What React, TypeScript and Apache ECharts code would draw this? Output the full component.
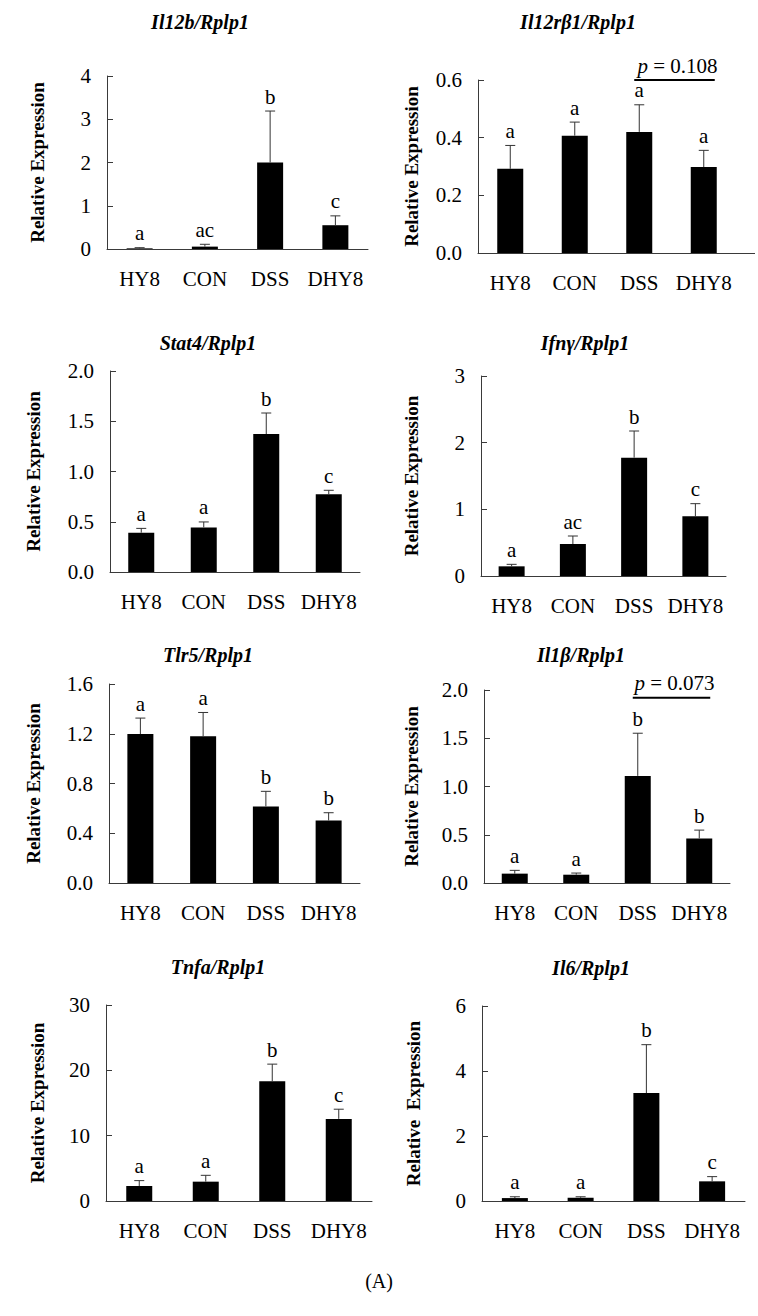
import React, { useEffect, useRef } from "react";
import * as echarts from "echarts";

const categories = ["HY8", "CON", "DSS", "DHY8"];

const il12bMean = [0.015, 0.055, 2.0, 0.55];
const il12bErr = [0.015, 0.054, 1.19, 0.216];
const il12bLetters = ["a", "ac", "b", "c"];

const il12rb1Mean = [0.292, 0.407, 0.42, 0.298];
const il12rb1Err = [0.081, 0.047, 0.094, 0.058];
const il12rb1Letters = ["a", "a", "a", "a"];

const stat4Mean = [0.391, 0.444, 1.373, 0.773];
const stat4Err = [0.043, 0.054, 0.209, 0.04];
const stat4Letters = ["a", "a", "b", "c"];

const ifngMean = [0.145, 0.48, 1.775, 0.895];
const ifngErr = [0.03, 0.12, 0.4, 0.19];
const ifngLetters = ["a", "ac", "b", "c"];

const tlr5Mean = [1.197, 1.18, 0.616, 0.503];
const tlr5Err = [0.129, 0.191, 0.121, 0.062];
const tlr5Letters = ["a", "a", "b", "b"];

const il1bMean = [0.097, 0.086, 1.11, 0.462];
const il1bErr = [0.034, 0.017, 0.442, 0.086];
const il1bLetters = ["a", "a", "b", "b"];

const tnfaMean = [2.3, 2.96, 18.34, 12.57];
const tnfaErr = [0.82, 0.97, 2.61, 1.48];
const tnfaLetters = ["a", "a", "b", "c"];

const il6Mean = [0.09, 0.1, 3.32, 0.605];
const il6Err = [0.04, 0.03, 1.49, 0.145];
const il6Letters = ["a", "a", "b", "c"];

const il12rb1Bracket = { from: 2, to: 3, y: 0.6, p: "0.108" };
const il1bBracket = { from: 2, to: 3, y: 1.92, p: "0.073" };

const panelTitles = [
  "Il12b/Rplp1",
  "Il12rβ1/Rplp1",
  "Stat4/Rplp1",
  "Ifnγ/Rplp1",
  "Tlr5/Rplp1",
  "Il1β/Rplp1",
  "Tnfa/Rplp1",
  "Il6/Rplp1",
];
const yAxisNames = [
  "Relative Expression",
  "Relative Expression",
  "Relative Expression",
  "Relative Expression",
  "Relative Expression",
  "Relative Expression",
  "Relative Expression",
  "Relative  Expression",
];
const yMax = [4, 0.6, 2.0, 3, 1.6, 2.0, 30, 6];
const yInterval = [1, 0.2, 0.5, 1, 0.4, 0.5, 10, 2];
const yDecimals = [0, 1, 1, 0, 1, 1, 0, 0];
const footLabel = "(A)";

const FONT = '"Liberation Serif", "Times New Roman", serif';

const layouts = [
  { left: 107, top: 76, width: 261, height: 173, titleX: 200, titleY: 22, nameGap: 60 },
  { left: 478, top: 80, width: 258, height: 173, titleX: 578, titleY: 22, nameGap: 57, axisEnd: 755 },
  { left: 110, top: 371, width: 250, height: 201, titleX: 208, titleY: 343, nameGap: 67 },
  { left: 481, top: 376, width: 245, height: 200, titleX: 585, titleY: 343, nameGap: 60 },
  { left: 109, top: 684, width: 251, height: 199, titleX: 208, titleY: 655, nameGap: 66 },
  { left: 484, top: 690, width: 246, height: 193, titleX: 581, titleY: 655, nameGap: 63 },
  { left: 106, top: 1005, width: 266, height: 196, titleX: 218, titleY: 967, nameGap: 59 },
  { left: 482, top: 1006, width: 263, height: 195, titleX: 591, titleY: 968, nameGap: 59 },
];

const panelData = [
  { mean: il12bMean, err: il12bErr, letters: il12bLetters, bracket: null as any },
  { mean: il12rb1Mean, err: il12rb1Err, letters: il12rb1Letters, bracket: il12rb1Bracket },
  { mean: stat4Mean, err: stat4Err, letters: stat4Letters, bracket: null },
  { mean: ifngMean, err: ifngErr, letters: ifngLetters, bracket: null },
  { mean: tlr5Mean, err: tlr5Err, letters: tlr5Letters, bracket: null },
  { mean: il1bMean, err: il1bErr, letters: il1bLetters, bracket: il1bBracket },
  { mean: tnfaMean, err: tnfaErr, letters: tnfaLetters, bracket: null },
  { mean: il6Mean, err: il6Err, letters: il6Letters, bracket: null },
];

const AXIS_COLOR = "#3a3a3a";
const TICK_FS = 21;
const LETTER_FS = 21;

function buildOption() {
  const grid: any[] = [];
  const xAxis: any[] = [];
  const yAxis: any[] = [];
  const series: any[] = [];
  const graphic: any[] = [];

  panelData.forEach((p, k) => {
    const L = layouts[k];
    grid.push({ left: L.left, top: L.top, width: L.width, height: L.height });
    xAxis.push({
      type: "category",
      gridIndex: k,
      data: categories,
      axisLine: { show: true, lineStyle: { color: AXIS_COLOR, width: 1 } },
      axisTick: { show: false },
      axisLabel: { interval: 0, margin: 19, color: "#000", fontSize: TICK_FS, fontFamily: FONT },
      splitLine: { show: false },
    });
    const dec = yDecimals[k];
    yAxis.push({
      type: "value",
      gridIndex: k,
      min: 0,
      max: yMax[k],
      interval: yInterval[k],
      name: yAxisNames[k],
      nameLocation: "middle",
      nameGap: L.nameGap,
      nameTextStyle: { color: "#000", fontSize: 19, fontWeight: "bold", fontFamily: FONT },
      axisLine: { show: true, lineStyle: { color: AXIS_COLOR, width: 1 } },
      axisTick: { show: true, inside: true, length: 6, lineStyle: { color: AXIS_COLOR } },
      axisLabel: {
        margin: 16,
        color: "#000",
        fontSize: TICK_FS,
        fontFamily: FONT,
        formatter: (v: number) => v.toFixed(dec),
      },
      splitLine: { show: false },
    });
    series.push({
      type: "bar",
      xAxisIndex: k,
      yAxisIndex: k,
      data: p.mean,
      barWidth: 26,
      itemStyle: { color: "#000" },
      silent: true,
    });
    const letters = p.letters;
    series.push({
      type: "custom",
      xAxisIndex: k,
      yAxisIndex: k,
      z: 3,
      silent: true,
      data: p.mean.map((m, i) => [i, m, p.err[i]]),
      encode: { x: 0, y: 1 },
      renderItem: (params: any, api: any) => {
        const i = api.value(0);
        const m = api.value(1);
        const e = api.value(2);
        const base = api.coord([i, m]);
        const top = api.coord([i, m + e]);
        return {
          type: "group",
          children: [
            {
              type: "line",
              shape: { x1: base[0], y1: base[1], x2: top[0], y2: top[1] },
              style: { stroke: "#333", lineWidth: 1 },
            },
            {
              type: "line",
              shape: { x1: top[0] - 5, y1: top[1], x2: top[0] + 5, y2: top[1] },
              style: { stroke: "#333", lineWidth: 1 },
            },
            {
              type: "text",
              x: top[0],
              y: top[1] - 4,
              style: {
                text: letters[params.dataIndex],
                align: "center",
                verticalAlign: "bottom",
                font: `${LETTER_FS}px ${FONT}`,
                fill: "#000",
              },
            },
          ],
        };
      },
    });
    if (p.bracket) {
      const b = p.bracket;
      series.push({
        type: "custom",
        xAxisIndex: k,
        yAxisIndex: k,
        z: 4,
        silent: true,
        data: [[b.from, b.to, b.y]],
        encode: { x: [0, 1], y: 2 },
        renderItem: (params: any, api: any) => {
          const p1 = api.coord([api.value(0), api.value(2)]);
          const p2 = api.coord([api.value(1), api.value(2)]);
          return {
            type: "group",
            children: [
              {
                type: "line",
                shape: { x1: p1[0] - 5, y1: p1[1], x2: p2[0] + 11, y2: p2[1] },
                style: { stroke: "#000", lineWidth: 2 },
              },
              {
                type: "text",
                x: (p1[0] + p2[0]) / 2 + 6,
                y: p1[1] - 4,
                style: {
                  text: `{i|p} = ${b.p}`,
                  align: "center",
                  verticalAlign: "bottom",
                  font: `21px ${FONT}`,
                  fill: "#000",
                  rich: {
                    i: { fontStyle: "italic", fontSize: 21, fontFamily: FONT, fill: "#000" },
                  },
                },
              },
            ],
          };
        },
      });
    }
    graphic.push({
      type: "text",
      x: L.titleX,
      y: L.titleY,
      style: {
        text: panelTitles[k],
        align: "center",
        verticalAlign: "middle",
        font: `italic bold 20px ${FONT}`,
        fill: "#000",
      },
    });
    if (L.axisEnd) {
      graphic.push({
        type: "line",
        shape: { x1: L.left + L.width, y1: L.top + L.height + 0.5, x2: L.axisEnd, y2: L.top + L.height + 0.5 },
        style: { stroke: AXIS_COLOR, lineWidth: 1 },
      });
    }
  });

  graphic.push({
    type: "text",
    x: 379,
    y: 1281,
    style: { text: footLabel, align: "center", verticalAlign: "middle", font: `20px ${FONT}`, fill: "#000" },
  });

  return {
    animation: false,
    backgroundColor: "#fff",
    grid,
    xAxis,
    yAxis,
    series,
    graphic,
  };
}

export default function App() {
  const ref = useRef<HTMLDivElement>(null);
  useEffect(() => {
    if (!ref.current) return;
    const chart = echarts.init(ref.current, undefined, { renderer: "svg" });
    chart.setOption(buildOption());
    return () => chart.dispose();
  }, []);
  return (
    <div
      ref={ref}
      style={{ position: "absolute", left: 0, top: 0, width: 758, height: 1316, background: "#fff" }}
    />
  );
}
